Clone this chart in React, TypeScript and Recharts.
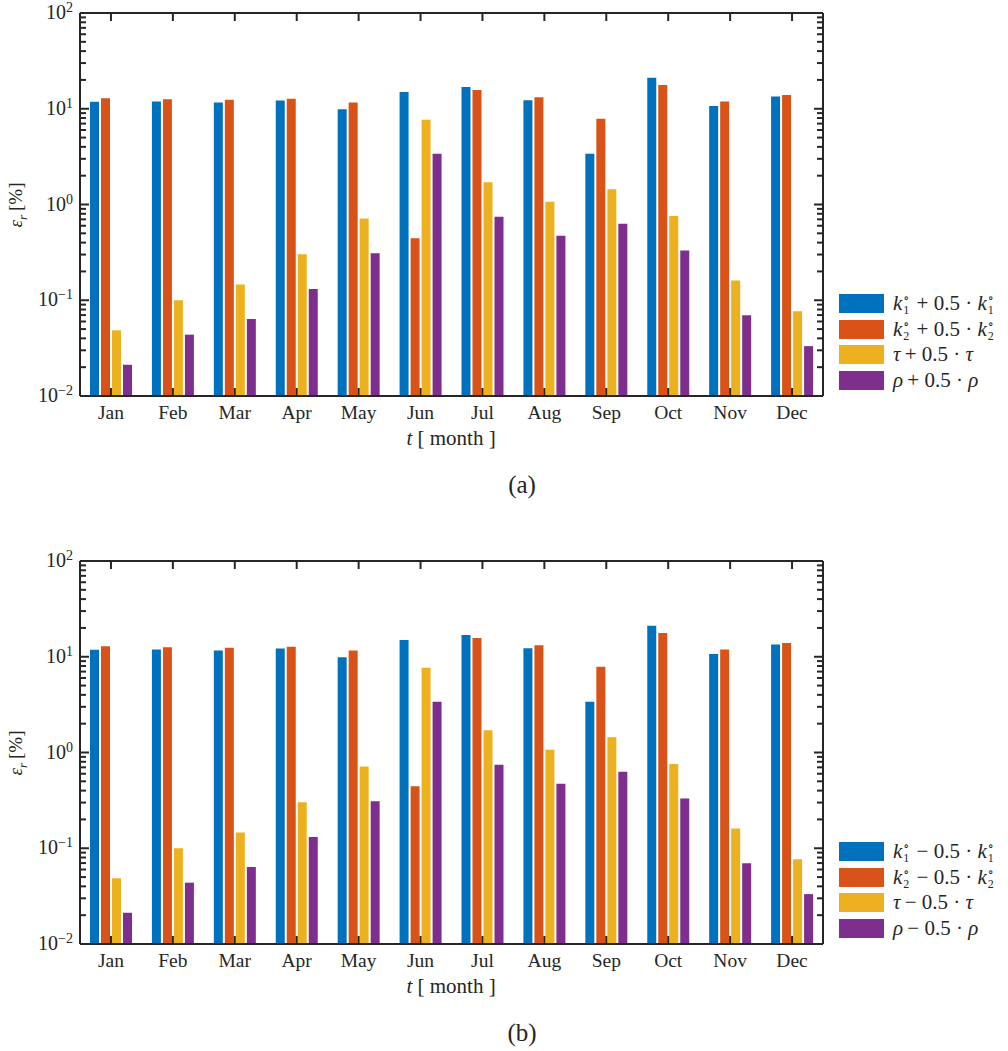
import React from 'react'
import { BarChart, Bar, XAxis, YAxis } from 'recharts'

const months = ['Jan', 'Feb', 'Mar', 'Apr', 'May', 'Jun', 'Jul', 'Aug', 'Sep', 'Oct', 'Nov', 'Dec']
const k1Err = [11.8, 11.9, 11.6, 12.2, 9.9, 15.0, 16.9, 12.3, 3.38, 21.1, 10.7, 13.4]
const k2Err = [12.9, 12.6, 12.4, 12.7, 11.6, 0.443, 15.7, 13.2, 7.85, 17.7, 11.9, 13.9]
const tauErr = [0.0486, 0.1, 0.146, 0.303, 0.716, 7.67, 1.71, 1.07, 1.44, 0.759, 0.161, 0.0768]
const rhoErr = [0.0212, 0.0437, 0.0637, 0.131, 0.31, 3.38, 0.745, 0.471, 0.629, 0.331, 0.0697, 0.0332]

const majorTicks = [0.01, 0.1, 1, 10, 100]
const majorExp = ['−2', '−1', '0', '1', '2']
const minorTicks = majorTicks.slice(0, 4).flatMap((d) => [2, 3, 4, 5, 6, 7, 8, 9].map((m) => m * d))
const allYTicks = [...majorTicks, ...minorTicks]

const COLORS = ['#0072BD', '#D95319', '#EDB120', '#7E2F8E']
const AXIS = '#262626'
const FONT = "'Liberation Serif', 'DejaVu Serif', serif"

// chart box: svg is shifted up by PAD so the top tick label is not clipped
const PAD = 12
const CHART_H = 440 + PAD
const X_AXIS_H = 44
const PLOT_TOP = 13 + PAD
const PLOT_H = CHART_H - X_AXIS_H - PLOT_TOP

const chartData = months.map((m, i) => ({
  month: m,
  k1: k1Err[i],
  k2: k2Err[i],
  tau: tauErr[i],
  rho: rhoErr[i]
}))

function isMajor(v: number) {
  return majorTicks.some((t) => Math.abs(t - v) < 1e-9)
}

function LeftTick({ x, y, payload }: any) {
  const v = payload.value
  const major = isMajor(v)
  const idx = majorTicks.findIndex((t) => Math.abs(t - v) < 1e-9)
  return (
    <g>
      <line x1={x} x2={x + (major ? 9 : 6)} y1={y} y2={y} stroke={AXIS} strokeWidth={2} />
      {major && (
        <text x={x - 7} y={y + 6} textAnchor="end" fontFamily={FONT} fontSize={20} fill={AXIS}>
          <tspan>10</tspan>
          <tspan dy={-7} fontSize={14}>{majorExp[idx]}</tspan>
        </text>
      )}
    </g>
  )
}

function RightTick({ x, y, payload }: any) {
  const major = isMajor(payload.value)
  return <line x1={x} x2={x - (major ? 9 : 6)} y1={y} y2={y} stroke={AXIS} strokeWidth={2} />
}

// bottom tick + label, and the matching inward tick on the top border
function BottomTick({ x, y, payload }: any) {
  return (
    <g>
      <line x1={x} x2={x} y1={y} y2={y - 8} stroke={AXIS} strokeWidth={2} />
      <line x1={x} x2={x} y1={y - PLOT_H} y2={y - PLOT_H + 8} stroke={AXIS} strokeWidth={2} />
      <text x={x} y={y + 23} textAnchor="middle" fontFamily={FONT} fontSize={19.5} fill={AXIS}>
        {payload.value}
      </text>
    </g>
  )
}

function SupSub({ sup, sub }: { sup: string; sub: string }) {
  return (
    <span
      style={{
        display: 'inline-flex',
        flexDirection: 'column',
        fontSize: 12,
        lineHeight: '12px',
        verticalAlign: '8px',
        fontStyle: 'normal',
        marginLeft: 1,
        marginRight: 3
      }}
    >
      <span>{sup}</span>
      <span>{sub}</span>
    </span>
  )
}

function LegendLabel({ idx, sign }: { idx: number; sign: string }) {
  const op = `\u2009${sign} 0.5 · `
  if (idx === 0 || idx === 1) {
    const n = String(idx + 1)
    return (
      <span>
        <i>k</i>
        <SupSub sup="∘" sub={n} />
        {op}
        <i>k</i>
        <SupSub sup="∘" sub={n} />
      </span>
    )
  }
  const g = idx === 2 ? 'τ' : 'ρ'
  return (
    <span>
      <i>{g}</i>
      {op}
      <i>{g}</i>
    </span>
  )
}

function Panel({ top, sign, tag }: { top: number; sign: string; tag: string }) {
  return (
    <div style={{ position: 'absolute', left: 0, top, width: 1008, height: 500 }}>
      <div style={{ position: 'absolute', left: 0, top: -PAD }}>
        <BarChart
          width={830}
          height={CHART_H}
          data={chartData}
          margin={{ top: PLOT_TOP - 1, right: 0, bottom: 0, left: 0 }}
          barCategoryGap={10}
          barGap={2}
        >
          <XAxis
            dataKey="month"
            height={X_AXIS_H}
            interval={0}
            tickSize={0}
            tickMargin={0}
            tickLine={false}
            axisLine={{ stroke: AXIS, strokeWidth: 2 }}
            tick={<BottomTick />}
          />
          <XAxis
            xAxisId="top"
            dataKey="month"
            orientation="top"
            height={1}
            tick={false}
            tickLine={false}
            axisLine={{ stroke: AXIS, strokeWidth: 2 }}
          />
          <YAxis
            scale="log"
            domain={[0.01, 100]}
            allowDataOverflow
            ticks={allYTicks}
            interval={0}
            width={80}
            tickSize={0}
            tickMargin={0}
            tickLine={false}
            axisLine={{ stroke: AXIS, strokeWidth: 2 }}
            tick={<LeftTick />}
          />
          <YAxis
            yAxisId="right"
            orientation="right"
            scale="log"
            domain={[0.01, 100]}
            allowDataOverflow
            ticks={allYTicks}
            interval={0}
            width={7}
            tickSize={0}
            tickMargin={0}
            tickLine={false}
            axisLine={{ stroke: AXIS, strokeWidth: 2 }}
            tick={<RightTick />}
          />
          <Bar dataKey="k1" fill={COLORS[0]} isAnimationActive={false} />
          <Bar dataKey="k2" fill={COLORS[1]} isAnimationActive={false} />
          <Bar dataKey="tau" fill={COLORS[2]} isAnimationActive={false} />
          <Bar dataKey="rho" fill={COLORS[3]} isAnimationActive={false} />
        </BarChart>
      </div>

      {/* y label */}
      <div
        style={{
          position: 'absolute',
          left: 18,
          top: 205,
          transform: 'translate(-50%, -50%) rotate(-90deg)',
          whiteSpace: 'nowrap',
          fontFamily: FONT,
          fontSize: 19,
          color: AXIS
        }}
      >
        <i>ε</i>
        <sub style={{ fontSize: '0.7em' }}>
          <i>r</i>
        </sub>
        {'\u2009[%]'}
      </div>

      {/* x label */}
      <div
        style={{
          position: 'absolute',
          left: 451,
          top: 438,
          transform: 'translate(-50%, -50%)',
          whiteSpace: 'nowrap',
          fontFamily: FONT,
          fontSize: 21,
          color: AXIS
        }}
      >
        <i>t</i> [ month ]
      </div>

      <div
        style={{
          position: 'absolute',
          left: 522,
          top: 485,
          transform: 'translate(-50%, -50%)',
          fontFamily: FONT,
          fontSize: 25,
          color: AXIS
        }}
      >
        {tag}
      </div>

      {/* legend */}
      {COLORS.map((c, i) => (
        <div
          key={c}
          style={{
            position: 'absolute',
            left: 839,
            top: 294 + i * 25.6,
            height: 19,
            display: 'flex',
            alignItems: 'center',
            whiteSpace: 'nowrap',
            fontFamily: FONT,
            fontSize: 21,
            color: AXIS
          }}
        >
          <span style={{ display: 'inline-block', width: 45, height: 19, background: c, marginRight: 9, flexShrink: 0 }} />
          <LegendLabel idx={i} sign={sign} />
        </div>
      ))}
    </div>
  )
}

export default function App() {
  return (
    <div style={{ position: 'absolute', left: 0, top: 0, width: 1008, height: 1051, background: '#fff' }}>
      <Panel top={0} sign="+" tag="(a)" />
      <Panel top={548} sign="−" tag="(b)" />
    </div>
  )
}
